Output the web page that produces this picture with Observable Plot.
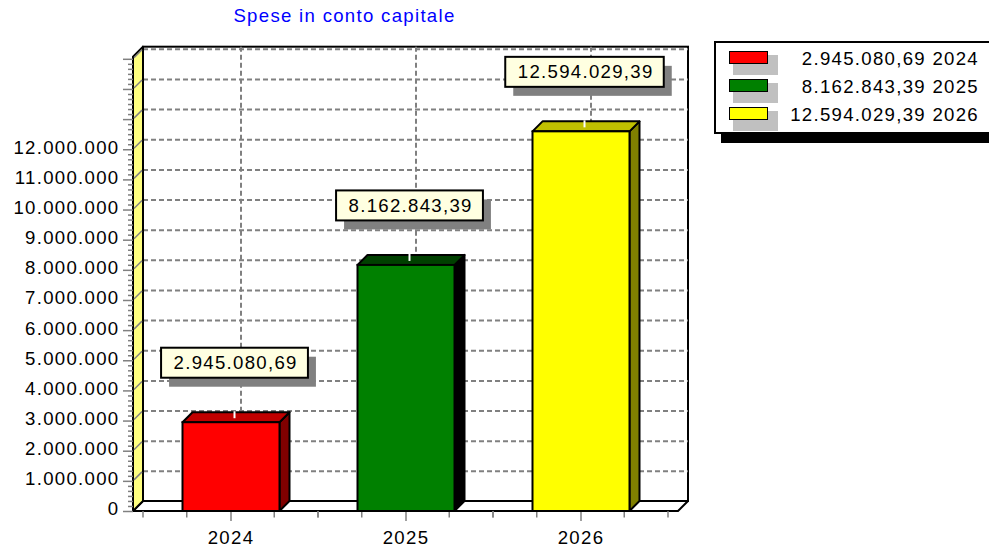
<!DOCTYPE html>
<html>
<head>
<meta charset="utf-8">
<script src="https://cdn.jsdelivr.net/npm/d3@7"></script>
<script src="https://cdn.jsdelivr.net/npm/@observablehq/plot@0.6"></script>
<style>
  html, body { margin: 0; padding: 0; background: #fff; }
  body { width: 989px; height: 554px; overflow: hidden; position: relative; font-family: Arial, "Liberation Sans", sans-serif; }
  #title { position: absolute; left: 0; top: 0.5px; width: 689px; height: 30px; line-height: 30px; text-align: center; color: #0000FF; font-size: 18.6px; letter-spacing: 1.3px; white-space: nowrap; }
  #chart { position: absolute; left: 0; top: 30px; }
  #legend { position: absolute; left: 714px; top: 41px; width: 300px; height: 89px; border: 2px solid #000; background: #fff; box-shadow: 7px 9px 0 #000; }
  .sh { position: absolute; left: 17px; width: 45px; height: 20px; background: #C0C0C0; }
  .sw { position: absolute; left: 13px; width: 39px; height: 13px; box-sizing: border-box; border: 1.5px solid #000; }
  .lbl { position: absolute; left: 0; width: 263px; text-align: right; font-size: 18.6px; letter-spacing: 1.3px; line-height: 20px; white-space: nowrap; color: #000; }
</style>
</head>
<body>
<div id="title"></div>
<div id="chart"></div>
<div id="legend"></div>
<script>
// ---------- data ----------
const title = "Spese in conto capitale";
const years = ["2024", "2025", "2026"];
const values = [2945080.69, 8162843.39, 12594029.39];
const fillColors = ["#FF0000", "#008000", "#FFFF00"];
const topColors = ["#C00000", "#004000", "#C0C000"];
const sideColors = ["#800000", "#000000", "#808000"];
const yLabelTicks = [0, 1000000, 2000000, 3000000, 4000000, 5000000, 6000000, 7000000, 8000000, 9000000, 10000000, 11000000, 12000000];
const yMajorTicks = [0, 1000000, 2000000, 3000000, 4000000, 5000000, 6000000, 7000000, 8000000, 9000000, 10000000, 11000000, 12000000, 13000000, 14000000, 15000000];
const yMax = 15070000;

// ---------- styles ----------
const D = 10;            // 3D depth in px
const LS = 1.3;          // letter spacing
const FS = 18.6;         // font size
const insetL = 39.5, insetR = 38.5;
const GRID = "#808080";

const it = d3.formatLocale({decimal: ",", thousands: ".", grouping: [3], currency: ["", " €"]});
const fmtInt = it.format(",d");
const fmt2 = it.format(",.2f");

const data = years.map((year, i) => ({
  year, value: values[i], fill: fillColors[i], top: topColors[i], side: sideColors[i], label: fmt2(values[i])
}));

const minorTicks = [];
for (let k = 0; k <= 15 * 6; k++) { if (k % 6) minorTicks.push(k * 1000000 / 6); }
const gridTicks = yMajorTicks.filter(v => v > 0);

document.getElementById("title").textContent = title;

const ctx = document.createElement("canvas").getContext("2d");
ctx.font = FS + "px Arial";
const textW = s => ctx.measureText(s).width + (s.length - 1) * LS;

// ---------- custom 3D pieces ----------
function walls(index, scales, values, dims) {
  const {width, height, marginLeft: L, marginRight: R, marginTop: T, marginBottom: B} = dims;
  const x0 = L, x1 = width - R, y0 = height - B, y1 = T;
  const g = d3.create("svg:g");
  g.append("rect").attr("x", x0 + D).attr("y", y1 - D).attr("width", x1 - x0).attr("height", y0 - y1)
    .attr("fill", "white").attr("stroke", "black").attr("stroke-width", 2);
  return g.node();
}
function wallsFront(index, scales, values, dims) {
  const {width, height, marginLeft: L, marginRight: R, marginTop: T, marginBottom: B} = dims;
  const x0 = L, x1 = width - R, y0 = height - B, y1 = T;
  const g = d3.create("svg:g");
  g.append("path").attr("d", `M${x0},${y0}L${x1},${y0}L${x1 + D},${y0 - D}L${x0 + D},${y0 - D}Z`)
    .attr("fill", "white").attr("stroke", "black").attr("stroke-width", 2).attr("stroke-linejoin", "round");
  g.append("path").attr("d", `M${x0},${y0}L${x0},${y1}L${x0 + D},${y1 - D}L${x0 + D},${y0 - D}Z`)
    .attr("fill", "#FFFF80").attr("stroke", "black").attr("stroke-width", 2).attr("stroke-linejoin", "round");
  for (const v of gridTicks) {
    const y = scales.y(v);
    g.append("line").attr("x1", x0 + 1).attr("y1", y - 1).attr("x2", x0 + D - 1).attr("y2", y - D + 1)
      .attr("stroke", GRID).attr("stroke-width", 1.5);
  }
  // quarter ticks on the x axis
  const bw = scales.x.bandwidth();
  for (const yr of years) {
    const s = scales.x(yr);
    for (const k of [0, 1, 3, 4]) {
      const x = s + k * bw / 4;
      g.append("line").attr("x1", x).attr("x2", x).attr("y1", y0).attr("y2", y0 + 6.5)
        .attr("stroke", GRID).attr("stroke-width", 1.5);
    }
  }
  return g.node();
}
function bars3d(index, scales) {
  const g = d3.create("svg:g");
  const bw = scales.x.bandwidth();
  const yb = scales.y(0);
  for (const d of data) {
    const xa = scales.x(d.year) + insetL, xb = scales.x(d.year) + bw - insetR;
    const yt = scales.y(d.value);
    g.append("path").attr("d", `M${xb},${yt}L${xb + D},${yt - D}L${xb + D},${yb - D}L${xb},${yb}Z`)
      .attr("fill", d.side).attr("stroke", "black").attr("stroke-width", 2).attr("stroke-linejoin", "round");
    g.append("path").attr("d", `M${xa},${yt}L${xb},${yt}L${xb + D},${yt - D}L${xa + D},${yt - D}Z`)
      .attr("fill", d.top).attr("stroke", "black").attr("stroke-width", 2).attr("stroke-linejoin", "round");
  }
  return g.node();
}
function connectors(index, scales) {
  const g = d3.create("svg:g");
  const bw = scales.x.bandwidth();
  for (const d of data) {
    const cx = scales.x(d.year) + bw / 2 + 4;
    const yt = scales.y(d.value);
    g.append("line").attr("x1", cx).attr("x2", cx).attr("y1", yt - 4).attr("y2", yt - 11)
      .attr("stroke", "white").attr("stroke-width", 2);
  }
  return g.node();
}
function labelBoxes(index, scales) {
  const g = d3.create("svg:g");
  const bw = scales.x.bandwidth();
  for (const d of data) {
    const cx = scales.x(d.year) + bw / 2 + 4;
    const cy = scales.y(d.value) - 59.5;
    const w = textW(d.label) + 24, h = 30;
    g.append("rect").attr("x", cx - w / 2 + 8).attr("y", cy - h / 2 + 9).attr("width", w).attr("height", h).attr("fill", "#808080");
    g.append("rect").attr("x", cx - w / 2).attr("y", cy - h / 2).attr("width", w).attr("height", h)
      .attr("fill", "#FFFFE1").attr("stroke", "black").attr("stroke-width", 2);
  }
  return g.node();
}

// ---------- plot ----------
const plot = Plot.plot({
  width: 989,
  height: 524,
  marginLeft: 133,
  marginRight: 311,
  marginTop: 26.7,
  marginBottom: 43,
  style: {fontFamily: "Arial, 'Liberation Sans', sans-serif", fontSize: FS + "px", letterSpacing: LS + "px", color: "black", background: "white", overflow: "visible"},
  x: {type: "band", domain: years, paddingInner: 0, paddingOuter: 0.0483},
  y: {domain: [0, yMax]},
  marks: [
    walls,
    Plot.ruleY(gridTicks, {y: d => d, dx: D, dy: -D, stroke: GRID, strokeWidth: 2, strokeDasharray: "5,3"}),
    Plot.ruleX(years, {x: d => d, dx: D, dy: -D, stroke: GRID, strokeWidth: 2, strokeDasharray: "5,3"}),
    wallsFront,
    Plot.axisY(minorTicks, {tickSize: 5, stroke: GRID, strokeWidth: 1.5, fill: "none", label: null}),
    Plot.axisY(yMajorTicks, {tickSize: 10, stroke: GRID, strokeWidth: 1.5, fill: "none", label: null}),
    Plot.axisY(yLabelTicks, {tickSize: 0, tickPadding: 14, tickFormat: fmtInt, fill: "black", dy: -2, fontSize: FS, label: null}),
    Plot.axisX({tickSize: 10, tickPadding: 9, stroke: GRID, strokeWidth: 1.5, fill: "black", fontSize: FS, label: null}),
    bars3d,
    Plot.barY(data, {x: "year", y: "value", fill: "fill", stroke: "black", strokeWidth: 2, insetLeft: insetL, insetRight: insetR}),
    connectors,
    labelBoxes,
    Plot.text(data, {x: "year", y: "value", text: "label", dx: 4 + LS / 2, dy: -59.5, fontSize: FS, fill: "black"})
  ]
});
document.getElementById("chart").appendChild(plot);

// ---------- legend ----------
const legend = d3.select("#legend");
data.forEach((d, i) => {
  const top = 8 + i * 28;
  legend.append("div").attr("class", "sh").style("top", (top + 4) + "px");
  legend.append("div").attr("class", "sw").style("top", top + "px").style("background", d.fill);
  legend.append("div").attr("class", "lbl").style("top", (5.56 + i * 28) + "px").text(`${d.label} ${d.year}`);
});
</script>
</body>
</html>
